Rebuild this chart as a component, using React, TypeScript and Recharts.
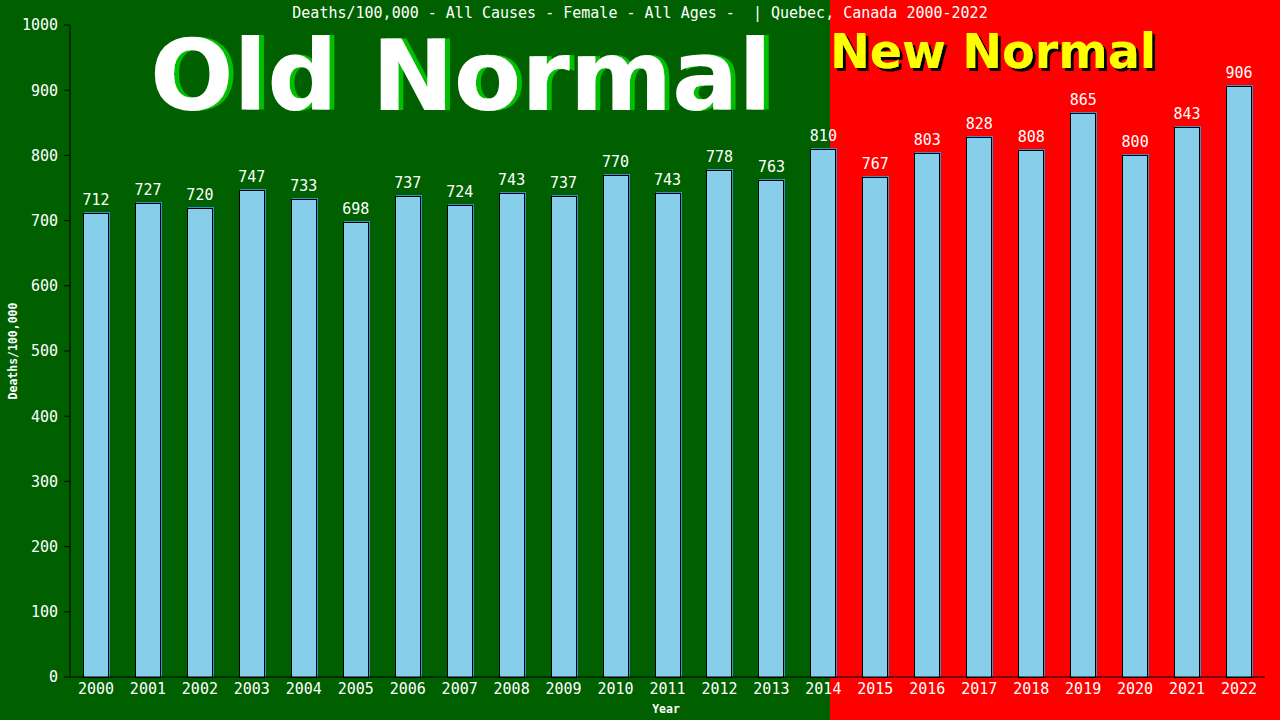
import React from "react";
import { Bar, BarChart, LabelList, XAxis, YAxis } from "recharts";

const years = [
  "2000", "2001", "2002", "2003", "2004", "2005", "2006", "2007", "2008", "2009", "2010", "2011",
  "2012", "2013", "2014", "2015", "2016", "2017", "2018", "2019", "2020", "2021", "2022",
];
const deathsPer100k = [
  712, 727, 720, 747, 733, 698, 737, 724, 743, 737, 770, 743, 778, 763, 810, 767, 803, 828, 808, 865, 800,
  843, 906,
];
const yTicks = [0, 100, 200, 300, 400, 500, 600, 700, 800, 900, 1000];

const title = "Deaths/100,000 - All Causes - Female - All Ages -  | Quebec, Canada 2000-2022";

const data = years.map((year, i) => ({ year, value: deathsPer100k[i] }));

const mono = "'DejaVu Sans Mono', monospace";
const bold = "'DejaVu Sans', Verdana, sans-serif";

// sky blue bar with black outline and a 1px blue edge offset up/right
function ShadowBar(props: any) {
  const { x, y, width, height } = props;
  const x0 = Math.round(x) + 0.5;
  const y0 = Math.round(y) + 0.5;
  const w = Math.round(width) - 1;
  const h = Math.round(y + height) - Math.round(y);
  return (
    <g>
      <rect x={x0 + 1} y={y0 - 1} width={w} height={h} fill="none" stroke="#3b8ed0" />
      <rect x={x0} y={y0} width={w} height={h} fill="#87ceeb" stroke="#000" />
    </g>
  );
}

export default function App() {
  return (
    <div
      style={{
        position: "absolute",
        left: 0,
        top: 0,
        width: 1280,
        height: 720,
        background: "linear-gradient(to right, #006000 0px, #006000 830px, #ff0000 830px, #ff0000 1280px)",
      }}
    >
      <svg width={1280} height={720} style={{ position: "absolute", left: 0, top: 0 }}>
        <defs>
          <filter id="greenShadow" x="-5%" y="-5%" width="110%" height="110%">
            <feDropShadow dx={5} dy={0} stdDeviation={0} floodColor="#00c000" floodOpacity={1} />
          </filter>
          <filter id="blackShadow" x="-5%" y="-5%" width="110%" height="120%">
            <feDropShadow dx={3} dy={3} stdDeviation={0} floodColor="#000" floodOpacity={1} />
          </filter>
        </defs>
        <text x={640} y={18} fill="#fff" fontFamily={mono} fontSize={15} textAnchor="middle" xmlSpace="preserve">
          {title}
        </text>
        <text
          x={150}
          y={110}
          fill="#fff"
          fontFamily={bold}
          fontWeight="bold"
          fontSize={98}
          textLength={622}
          lengthAdjust="spacingAndGlyphs"
          filter="url(#greenShadow)"
        >
          Old Normal
        </text>
        <text
          x={830}
          y={68}
          fill="#ffff00"
          fontFamily={bold}
          fontWeight="bold"
          fontSize={48}
          textLength={326}
          lengthAdjust="spacingAndGlyphs"
          filter="url(#blackShadow)"
        >
          New Normal
        </text>
        <text
          x={17}
          y={351}
          fill="#fff"
          fontFamily={mono}
          fontWeight="bold"
          fontSize={11.5}
          textAnchor="middle"
          transform="rotate(-90 17 351)"
        >
          Deaths/100,000
        </text>
        <text x={666} y={713} fill="#fff" fontFamily={mono} fontWeight="bold" fontSize={11.5} textAnchor="middle">
          Year
        </text>
      </svg>
      <div style={{ position: "absolute", left: 0, top: 0 }}>
        <BarChart width={1280} height={720} data={data} margin={{ top: 25, right: 15, bottom: 0, left: 0 }} barSize={26}>
          <XAxis
            dataKey="year"
            height={43}
            tickLine={false}
            tickSize={6}
            tickMargin={0}
            axisLine={{ stroke: "#000" }}
            tick={{ fill: "#fff", fontSize: 15, fontFamily: mono }}
            interval={0}
          />
          <YAxis
            yAxisId="left"
            width={70}
            domain={[0, 1000]}
            ticks={yTicks}
            tickSize={6}
            tickMargin={6}
            axisLine={{ stroke: "#000" }}
            tickLine={{ stroke: "#000" }}
            tick={{ fill: "#fff", fontSize: 15, fontFamily: mono }}
            interval={0}
          />
          <YAxis
            yAxisId="right"
            orientation="right"
            width={0}
            domain={[0, 1000]}
            tick={false}
            tickLine={false}
            axisLine={{ stroke: "#000" }}
          />
          <Bar yAxisId="left" dataKey="value" shape={<ShadowBar />} isAnimationActive={false}>
            <LabelList dataKey="value" position="top" offset={8} fill="#fff" fontSize={15} fontFamily={mono} />
          </Bar>
        </BarChart>
      </div>
    </div>
  );
}
